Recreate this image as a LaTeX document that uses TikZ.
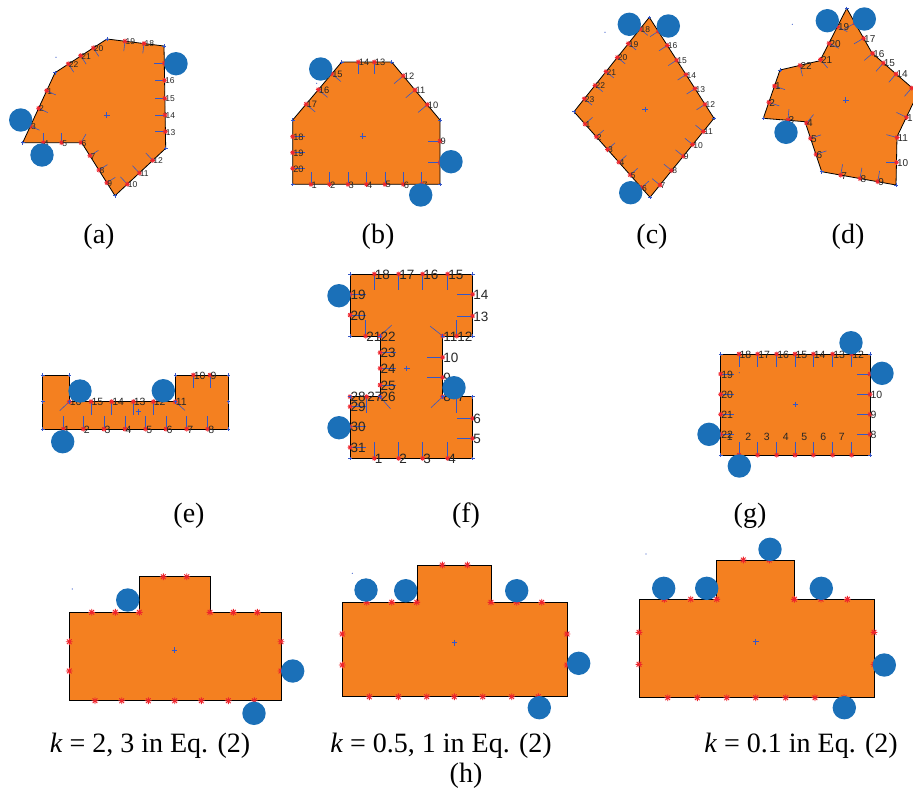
\documentclass[tikz,border=0pt]{standalone}
\usepackage{fontspec}
\setmainfont{Liberation Serif}
\newfontfamily\lblfont{Liberation Sans}
\definecolor{shapeorange}{RGB}{244,128,32}
\definecolor{diskblue}{RGB}{27,112,184}
\definecolor{markred}{RGB}{238,36,44}
\definecolor{tickblue}{RGB}{52,86,200}

\newcommand{\nl}{10}
\newcommand{\lfs}{7}
\newcommand{\ms}{2.5}
\newcommand{\pn}{a}

\tikzset{
  region/.style={fill=shapeorange, draw=black, line width=0.8pt},
  disk/.style={fill=diskblue},
  nrm/.style={tickblue, line width=0.6pt},
  mkr/.style={markred, line width=0.75pt},
  vtx/.style={tickblue, line width=0.55pt},
  lbl/.style={anchor=west, inner sep=0.4pt, yshift=-0.5pt, text=black!85,
    font=\lblfont\fontsize{\lfs}{\lfs}\selectfont},
  captxt/.style={inner sep=0pt, font=\fontsize{28}{30}\selectfont},
}

\newcommand{\redstar}[2]{\draw[mkr] (#1,#2) +(-\ms,0) -- +(\ms,0) +(0,-\ms) -- +(0,\ms)
  +(-0.7*\ms,-0.7*\ms) -- +(0.7*\ms,0.7*\ms) +(-0.7*\ms,0.7*\ms) -- +(0.7*\ms,-0.7*\ms);}
\newcommand{\vx}[2]{\draw[vtx] (#1,#2) +(-1.8,0) -- +(1.8,0) +(0,-1.8) -- +(0,1.8);}
\newcommand{\cen}[2]{\draw[vtx, line width=0.7pt] (#1,#2) +(-2.8,0) -- +(2.8,0) +(0,-2.8) -- +(0,2.8);}
\newcommand{\mkb}[3]{\draw[nrm] (#1,#2) -- ++(#3:\nl); \redstar{#1}{#2}}
\newcommand{\mk}[4]{\mkb{#1}{#2}{#4} \node[lbl] (\pn-#3) at (#1,#2) {#3};}

\begin{document}
\begin{tikzpicture}[x=1pt,y=-1pt]
\useasboundingbox (0,0) rectangle (913,796);
\clip (0,0) rectangle (913,796);

% (a)
\begin{scope}
  \renewcommand{\pn}{a}\renewcommand{\nl}{10}\renewcommand{\lfs}{8.5}
  \draw[region] (107,39) -- (164,46) -- (165.7,148.3) -- (115,195.7) -- (81.7,142.7) -- (22.7,142.7) -- (55,72.7) -- cycle;
  \foreach \px/\py/\num/\ang in {46.7/90.7/1/25, 38.6/108.3/2/25, 30.4/126/3/25, 43.3/142.7/4/-90,
      61.7/142.7/5/-90, 81/142.7/6/-60, 89.9/155.7/7/-32, 98.9/170/8/-32, 106.8/182.7/9/-32,
      127.3/184.2/10/-133, 139.3/173/11/-133, 152.7/160.4/12/-133, 165.3/131.7/13/180,
      165.1/115/14/180, 164.8/98.3/15/180, 164.5/80.3/16/180, 164.3/63.3/17/180, 144/43.5/18/97,
      125/41.2/19/97, 93.3/47.9/20/57, 80.7/55.7/21/57, 68.3/63.8/22/57} {
    \mk{\px}{\py}{\num}{\ang}
  }
  \foreach \px/\py in {107/39, 164/46, 165.7/148.3, 115/195.7, 22.7/142.7, 55/72.7} {\vx{\px}{\py}}
  \cen{106.7}{115}
  \fill[tickblue] (56,57.3) circle (0.6pt);
  \foreach \px/\py in {176/63.7, 20.7/120, 42/155} {\fill[disk] (\px,\py) circle (11.7pt);}
\end{scope}

% (b)
\begin{scope}
  \renewcommand{\pn}{b}\renewcommand{\nl}{12}\renewcommand{\lfs}{9.3}
  \draw[region] (292.7,120) -- (341.7,62) -- (391.7,62) -- (440,120) -- (440,184.3) -- (292.7,184.3) -- cycle;
  \foreach \px/\py/\num/\ang in {311/184.3/1/-90, 329.5/184.3/2/-90, 348/184.3/3/-90, 366.5/184.3/4/-90,
      385/184.3/5/-90, 403.3/184.3/6/-90, 421.7/184.3/7/-90, 440/162.7/8/180, 440/141/9/180,
      427.3/104.7/10/140, 415/90/11/140, 403.3/75.9/12/140, 374.3/62/13/90, 358.3/62/14/90,
      331.7/73.8/15/40, 318.3/89.6/16/40, 306/104.2/17/40, 292.7/136.7/18/0, 292.7/152.7/19/0,
      292.7/168.3/20/0} {
    \mk{\px}{\py}{\num}{\ang}
  }
  \foreach \px/\py in {292.7/120, 341.7/62, 391.7/62, 440/120, 440/184.3, 292.7/184.3} {\vx{\px}{\py}}
  \cen{362.7}{136}
  \fill[tickblue] (316.7,83.3) circle (0.6pt);
  \foreach \px/\py in {320.7/69, 451/161.7, 420.7/195} {\fill[disk] (\px,\py) circle (11.7pt);}
\end{scope}

% (c)
\begin{scope}
  \renewcommand{\pn}{c}\renewcommand{\nl}{10}\renewcommand{\lfs}{8.5}
  \draw[region] (649.3,17.3) -- (714,118.3) -- (650,197.3) -- (574,111.7) -- cycle;
  \foreach \px/\py/\num/\ang in {585/124.1/1/-42, 596.3/136.8/2/-42, 607.6/149.5/3/-42, 618.9/162.2/4/-42,
      630.2/175/5/-42, 641.5/187.7/6/-42, 660/185/7/-141, 671.7/170.5/8/-141, 683.3/156.2/9/-141,
      692.7/144.6/10/-141, 703.3/131.5/11/-141, 705/104.3/12/147, 695/88.6/13/147, 686/74.6/14/147,
      676.7/60.1/15/147, 667.3/45.4/16/147, 658.3/31.3/17/147, 640/29/18/39, 628.3/43.6/19/39,
      617.3/57.4/20/39, 606/71.6/21/39, 595/85.4/22/39, 584.3/98.8/23/39} {
    \mk{\px}{\py}{\num}{\ang}
  }
  \foreach \px/\py in {649.3/17.3, 714/118.3, 650/197.3, 574/111.7} {\vx{\px}{\py}}
  \cen{645}{109.3}
  \fill[tickblue] (605,32.3) circle (0.6pt);
  \foreach \px/\py in {629.3/24.3, 668.3/26, 630.7/192.7} {\fill[disk] (\px,\py) circle (11.7pt);}
\end{scope}

% (d)
\begin{scope}
  \renewcommand{\pn}{d}\renewcommand{\nl}{11}\renewcommand{\lfs}{10}
  \draw[region] (846.7,8.3) -- (820,60.7) -- (780,70) -- (763.3,118.3) -- (805,121.7) -- (821.7,171.7)
    -- (896,185) -- (897,136.7) -- (918,93) -- (872,53) -- cycle;
  \foreach \px/\py/\num/\ang in {774.5/86/1/19, 768.8/102.3/2/19, 788/120/3/-85, 806.5/123/4/-50,
      810.5/138.3/5/-18, 816/154.3/6/-18, 840.7/175.1/7/-80, 860/178.6/8/-80, 877.7/181.7/9/-80,
      896.5/162.3/10/180, 897/137.5/11/-165, 906.5/117.3/12/-154, 911.7/88/13/131, 896/74/14/131,
      883.3/63/15/131, 872.7/53.3/16/140, 863.6/38.3/17/150, 855/23/18/150, 837.5/26.7/19/27,
      829/43.3/20/27, 820.5/59.5/21/50, 800/65.3/22/77} {
    \mk{\px}{\py}{\num}{\ang}
  }
  \foreach \px/\py in {846.7/8.3, 780/70, 763.3/118.3, 821.7/171.7, 896/185} {\vx{\px}{\py}}
  \cen{845.7}{100}
  \fill[tickblue] (792.3,24.3) circle (0.6pt);
  \foreach \px/\py in {827.3/20.7, 864.3/19, 786/132.3} {\fill[disk] (\px,\py) circle (11.7pt);}
\end{scope}

% (e)
\begin{scope}
  \renewcommand{\pn}{e}\renewcommand{\nl}{13}\renewcommand{\lfs}{10.5}
  \draw[region] (42.7,375) -- (69.3,375) -- (69.3,401.7) -- (175.3,401.7) -- (175.3,375) -- (228.3,375)
    -- (228.3,429) -- (42.7,429) -- cycle;
  \foreach \px/\py/\num/\ang in {63.3/429/1/-90, 83.3/429/2/-90, 104/429/3/-90, 125/429/4/-90,
      145.7/429/5/-90, 166/429/6/-90, 186.7/429/7/-90, 207.7/429/8/-90, 210/375/9/90, 193.3/375/10/90,
      175.3/401.7/11/42, 153.3/401.7/12/90, 133.3/401.7/13/90, 111.7/401.7/14/90, 91/401.7/15/90,
      69.3/401.7/16/137} {
    \mk{\px}{\py}{\num}{\ang}
  }
  \foreach \px/\py in {42.7/375, 69.3/375, 69.3/401.7, 175.3/401.7, 175.3/375, 228.3/375, 228.3/429,
      42.7/429, 42.7/401.7, 228.3/401.7} {\vx{\px}{\py}}
  \cen{138.3}{411.7}
  \foreach \px/\py in {80/391, 163.3/390.7, 62.7/441.7} {\fill[disk] (\px,\py) circle (11.7pt);}
\end{scope}

% (f)
\begin{scope}
  \renewcommand{\pn}{f}\renewcommand{\nl}{16}\renewcommand{\lfs}{13.5}
  \draw[region] (350,274) -- (472.7,274) -- (472.7,336) -- (442.7,336) -- (442.7,396.7) -- (472.7,396.7)
    -- (472.7,458.3) -- (350,458.3) -- (350,396.7) -- (380,396.7) -- (380,336) -- (350,336) -- cycle;
  \foreach \px/\py/\num/\ang in {374.3/458.3/1/-90, 398.7/458.3/2/-90, 422.7/458.3/3/-90,
      447.7/458.3/4/-90, 472.7/438.3/5/180, 472.7/418.3/6/180, 456.7/396.7/7/90, 442.7/396.7/8/137,
      442.7/377.3/9/180, 442.7/357.3/10/180, 442.7/336/11/-142, 456.7/336/12/-90, 472.7/316/13/180,
      472.7/294.3/14/180, 447.7/274/15/90, 422.7/274/16/90, 398.7/274/17/90, 374.3/274/18/90,
      350/294.3/19/0, 350/315/20/0, 365.7/336/21/-90, 380/336/22/-43, 380/352.7/23/0, 380/368.3/24/0,
      380/385/25/0, 380/396.7/26/49, 366.7/396.7/27/90, 350/396.7/28/45, 350/406.7/29/0,
      350/426.7/30/0, 350/447.3/31/0} {
    \mk{\px}{\py}{\num}{\ang}
  }
  \foreach \px/\py in {350/274, 472.7/274, 472.7/336, 442.7/336, 442.7/396.7, 472.7/396.7, 472.7/458.3,
      350/458.3, 350/396.7, 380/396.7, 380/336, 350/336} {\vx{\px}{\py}}
  \cen{406.7}{368.3}
  \foreach \px/\py in {339/295.7, 454/387.7, 339/427.7} {\fill[disk] (\px,\py) circle (11.7pt);}
\end{scope}

% (g)
\begin{scope}
  \renewcommand{\pn}{g}\renewcommand{\nl}{13}\renewcommand{\lfs}{10.5}
  \draw[region] (720.7,354) rectangle (870,455);
  \foreach \px in {739, 757.7, 776.7, 795, 813.3, 832.7, 851.7} {\mkb{\px}{455}{-90}}
  \foreach \px/\num in {729.7/1, 748.3/2, 766.7/3, 785.7/4, 804.3/5, 823.3/6, 841.7/7} {
    \node[lbl, anchor=center] (g-\num) at (\px,436.7) {\num};
  }
  \foreach \px/\py/\num/\ang in {870/434.3/8/180, 870/414.3/9/180, 870/394.3/10/180, 870/374/11/180,
      851.7/354/12/90, 832.7/354/13/90, 813.3/354/14/90, 795/354/15/90, 776.7/354/16/90,
      757.7/354/17/90, 739/354/18/90, 720.7/374/19/0, 720.7/394.3/20/0, 720.7/414.3/21/0,
      720.7/434.3/22/0} {
    \mk{\px}{\py}{\num}{\ang}
  }
  \foreach \px/\py in {720.7/354, 870/354, 870/455, 720.7/455} {\vx{\px}{\py}}
  \cen{795.3}{404.3}
  \fill[tickblue] (739.3,372.7) circle (0.6pt);
  \foreach \px/\py in {851/342.7, 882/373.3, 709/434.3, 739.3/466} {\fill[disk] (\px,\py) circle (11.7pt);}
\end{scope}

% (h)
\begin{scope}
  \renewcommand{\ms}{3.4}
  \tikzset{mkr/.append style={line width=0.9pt}}
  \draw[region] (69.3,612.3) -- (139.3,612.3) -- (139.3,576.7) -- (210,576.7) -- (210,612.3) -- (281,612.3)
    -- (281,700.7) -- (69.3,700.7) -- cycle;
  \foreach \px/\py in {163.3/576.7, 186.7/576.7, 91.7/612.3, 115.3/612.3, 139.3/612.3, 210/612.3,
      233.3/612.3, 257.3/612.3, 69.3/641.7, 69.3/671, 281/641.7, 281/671} {\redstar{\px}{\py}}
  \foreach \px in {95, 121.7, 148.3, 174.7, 201.3, 228.3, 254.3} {\redstar{\px}{700.7}}
  \cen{174.3}{650}
  \fill[tickblue] (72.3,589) circle (0.6pt);
  \foreach \px/\py in {127.7/600, 292.7/671, 254/713.3} {\fill[disk] (\px,\py) circle (11.7pt);}

  \draw[region] (342.3,602.3) -- (417.3,602.3) -- (417.3,565) -- (491.7,565) -- (491.7,602.3) -- (567,602.3)
    -- (567,696.7) -- (342.3,696.7) -- cycle;
  \foreach \px/\py in {442.3/565, 467.3/565, 366.7/602.3, 391.7/602.3, 416.7/602.3, 491/602.3,
      516.7/602.3, 541.7/602.3, 342.3/634, 342.3/665, 567/634, 567/665} {\redstar{\px}{\py}}
  \foreach \px in {369.3, 398.3, 426.7, 454.3, 482.7, 511.7, 538.3} {\redstar{\px}{696.7}}
  \cen{454.3}{642.7}
  \fill[tickblue] (352.3,573.3) circle (0.6pt);
  \foreach \px/\py in {366/590, 405.7/590.7, 516.7/590.7, 578.7/663.3, 539.3/707.7} {\fill[disk] (\px,\py) circle (11.7pt);}

  \draw[region] (639,599.3) -- (716.7,599.3) -- (716.7,560) -- (794.3,560) -- (794.3,599.3) -- (874,599.3)
    -- (874,697.7) -- (639,697.7) -- cycle;
  \foreach \px/\py in {743.3/560, 769.3/560, 664.3/599.3, 690.7/599.3, 716.7/599.3, 794.3/599.3,
      821/599.3, 847.3/599.3, 639/632.3, 639/664.3, 874/632.3, 874/664.3} {\redstar{\px}{\py}}
  \foreach \px in {667.7, 697.3, 726.7, 755.7, 785.7, 815, 844} {\redstar{\px}{697.7}}
  \cen{755.7}{641.7}
  \fill[tickblue] (646,554) circle (0.6pt);
  \foreach \px/\py in {663.7/588.3, 706.7/588.3, 770/549.3, 821.3/588.3, 884.3/665, 844.3/707.7} {\fill[disk] (\px,\py) circle (11.7pt);}
\end{scope}

\node[captxt] (cap-a) at (99,237) {(a)};
\node[captxt] (cap-b) at (378,237) {(b)};
\node[captxt] (cap-c) at (652,237) {(c)};
\node[captxt] (cap-d) at (848,237) {(d)};
\node[captxt] (cap-e) at (189,516) {(e)};
\node[captxt] (cap-f) at (466,516) {(f)};
\node[captxt] (cap-g) at (750,516) {(g)};
\node[captxt] (cap-h1) at (150,746) {\textit{k} = 2, 3 in Eq. (2)};
\node[captxt] (cap-h2) at (441,746) {\textit{k} = 0.5, 1 in Eq. (2)};
\node[captxt] (cap-h3) at (801,746) {\textit{k} = 0.1 in Eq. (2)};
\node[captxt] (cap-h) at (466,776) {(h)};
\end{tikzpicture}
\end{document}
